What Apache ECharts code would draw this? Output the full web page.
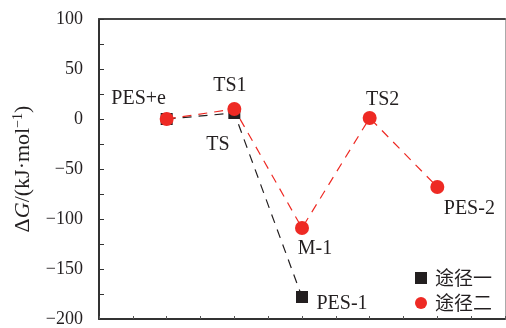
<!DOCTYPE html>
<html><head><meta charset="utf-8">
<script src="https://cdn.jsdelivr.net/npm/echarts@6/dist/echarts.min.js"></script>
<style>html,body{margin:0;padding:0;background:#fff}#c{width:506px;height:328px}</style>
</head><body><div id="c"></div>
<script>
const xPos = [1, 2, 3, 4, 5];
const path1Names = ['', 'TS', 'PES-1'];
const path1Values = [0, 6, -178];
const path2Names = ['PES+e', 'TS1', 'M-1', 'TS2', 'PES-2'];
const path2Values = [0, 10, -109, 1, -68];
const seriesNames = ['途径一', '途径二'];
const yTicks = [-200, -150, -100, -50, 0, 50, 100];

const font = 'Liberation Serif';
const ink = '#231f20';

const off2 = [[-28, -20], [-4.5, -23], [13, 20.5], [13, -18], [32, 21.5]];
const off1 = [null, [-16.5, 32], [40, 6.5]];

const d1 = path1Values.map((v, i) => {
  const o = {value: [xPos[i], v]};
  if (off1[i]) o.label = {show: true, position: 'inside', offset: off1[i], formatter: path1Names[i]};
  return o;
});
const d2 = path2Values.map((v, i) => ({
  value: [xPos[i], v],
  label: {show: true, position: 'inside', offset: off2[i], formatter: path2Names[i]}
}));

const chart = echarts.init(document.getElementById('c'));
chart.setOption({
  animation: false,
  grid: {left: 99, right: 1, top: 19, bottom: 7, containLabel: false},
  legend: {
    orient: 'vertical', left: 415, top: 268, itemGap: 5,
    itemWidth: 12, itemHeight: 12, padding: 0,
    textStyle: {fontFamily: 'Noto Sans CJK SC', fontSize: 19, lineHeight: 20, color: ink, padding: [0,0,0,3]},
    data: [{name: seriesNames[0], icon: 'rect'}, {name: seriesNames[1], icon: 'circle'}]
  },
  xAxis: [{
    type: 'value', min: 0, max: 6, interval: 0.5,
    axisLine: {show: true, onZero: false, lineStyle: {color: '#333', width: 2}},
    axisTick: {show: true, inside: true, length: 3, lineStyle: {color: '#555'}},
    axisLabel: {show: false}, splitLine: {show: false}
  }, {
    type: 'value', position: 'top', min: 0, max: 6,
    axisLine: {show: true, onZero: false, lineStyle: {color: '#444', width: 2}},
    axisTick: {show: false}, axisLabel: {show: false}, splitLine: {show: false}
  }],
  yAxis: [{
    type: 'value', min: -200, max: 100, interval: 50,
    axisLine: {show: true, onZero: false, lineStyle: {color: '#333', width: 2}},
    axisTick: {show: true, inside: true, length: 5, lineStyle: {color: '#333'}},
    minorTick: {show: true, splitNumber: 2, length: 5, lineStyle: {color: '#333'}},
    axisLabel: {fontFamily: font, fontSize: 18, color: ink, margin: 16,
      formatter: v => yTicks.includes(v) ? String(v).replace('-', '\u2212') : ''},
    splitLine: {show: false},
    name: '{a|\u0394}{g|G}{a|/(kJ\u00b7mol}{s|\u22121}{a|)}',
    nameLocation: 'middle', nameGap: 64, nameRotate: 90,
    nameTextStyle: {
      color: ink,
      rich: {
        a: {fontFamily: font, fontSize: 22, color: ink},
        g: {fontFamily: font, fontSize: 22, fontStyle: 'italic', color: ink},
        s: {fontFamily: font, fontSize: 14, color: ink, padding: [0, 0, 10, 0]}
      }
    }
  }, {
    type: 'value', position: 'right', min: -200, max: 100,
    axisLine: {show: true, onZero: false, lineStyle: {color: '#aaa', width: 1}},
    axisTick: {show: false}, axisLabel: {show: false}, splitLine: {show: false}
  }],
  series: [{
    name: seriesNames[0], type: 'line', data: d1,
    symbol: 'rect', symbolSize: 12,
    itemStyle: {color: ink},
    lineStyle: {color: ink, width: 1.2, type: [9, 7]},
    label: {fontFamily: font, fontSize: 20, color: ink},
    z: 2
  }, {
    name: seriesNames[1], type: 'line', data: d2,
    symbol: 'circle', symbolSize: 14,
    itemStyle: {color: '#ee2a24'},
    lineStyle: {color: '#ee2a24', width: 1.2, type: [9, 7]},
    label: {fontFamily: font, fontSize: 20, color: ink},
    z: 3
  }]
});
</script>
</body></html>
